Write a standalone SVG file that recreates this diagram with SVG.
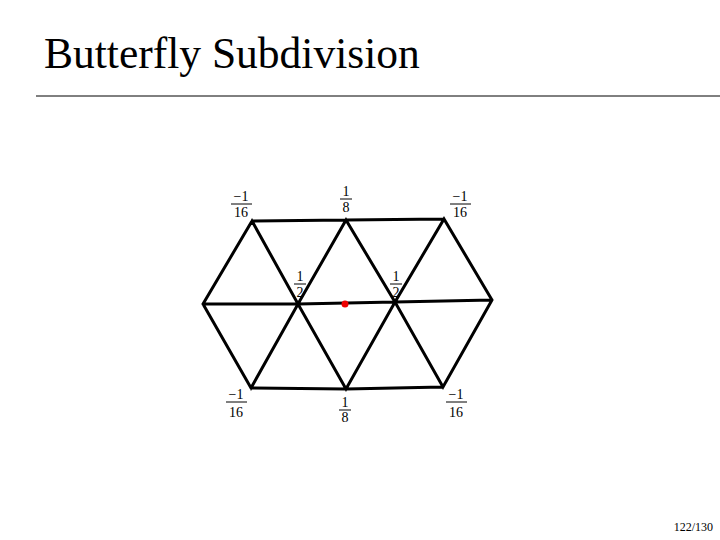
<svg xmlns="http://www.w3.org/2000/svg" width="720" height="540" viewBox="0 0 720 540">
<style>
.t{font-family:"Liberation Serif",serif;fill:#000}
.f{font-family:"Liberation Serif",serif;font-size:14px;text-anchor:middle}
.b{stroke:#000;stroke-width:1}
.e{stroke:#000;stroke-width:3;stroke-linecap:round;fill:none}
</style>
<rect width="720" height="540" fill="#fff"/>
<text class="t" x="44" y="68" font-size="43.5">Butterfly Subdivision</text>
<line x1="36" y1="96" x2="720" y2="96" stroke="#000" stroke-width="1"/>
<g id="connectors">
<path class="e" d="M252,221 L346,220 L444,219 M203,304 L298,304 L395,302 L492,300 M251,388 L346,389 L443,387
M203,304 L252,221 L298,304 L346,220 L395,302 L444,219 L492,300
M203,304 L251,388 L298,304 L346,389 L395,302 L443,387 L492,300"/>
</g>
<g id="center"><circle cx="345" cy="304" r="3.5" fill="#e00"/></g>
<g id="w-tl"><text class="f" x="241" y="201">−1</text><line class="b" x1="231" y1="204" x2="252" y2="204"/><text class="f" x="241" y="217">16</text></g>
<g id="w-tm"><text class="f" x="346" y="196">1</text><line class="b" x1="340" y1="199" x2="352" y2="199"/><text class="f" x="346" y="212">8</text></g>
<g id="w-tr"><text class="f" x="460" y="201">−1</text><line class="b" x1="450" y1="204" x2="471" y2="204"/><text class="f" x="460" y="217">16</text></g>
<g id="w-hl"><text class="f" x="300" y="281">1</text><line class="b" x1="294" y1="284" x2="306" y2="284"/><text class="f" x="300" y="297">2</text></g>
<g id="w-hr"><text class="f" x="396" y="281">1</text><line class="b" x1="390" y1="284" x2="402" y2="284"/><text class="f" x="396" y="297">2</text></g>
<g id="w-bl"><text class="f" x="236" y="399">−1</text><line class="b" x1="226" y1="402" x2="247" y2="402"/><text class="f" x="236" y="417">16</text></g>
<g id="w-bm"><text class="f" x="345" y="407">1</text><line class="b" x1="339" y1="410" x2="351" y2="410"/><text class="f" x="345" y="422">8</text></g>
<g id="w-br"><text class="f" x="456" y="399">−1</text><line class="b" x1="446" y1="402" x2="467" y2="402"/><text class="f" x="456" y="417">16</text></g>
<text class="t" x="713" y="531" font-size="12" text-anchor="end">122/130</text>
</svg>
